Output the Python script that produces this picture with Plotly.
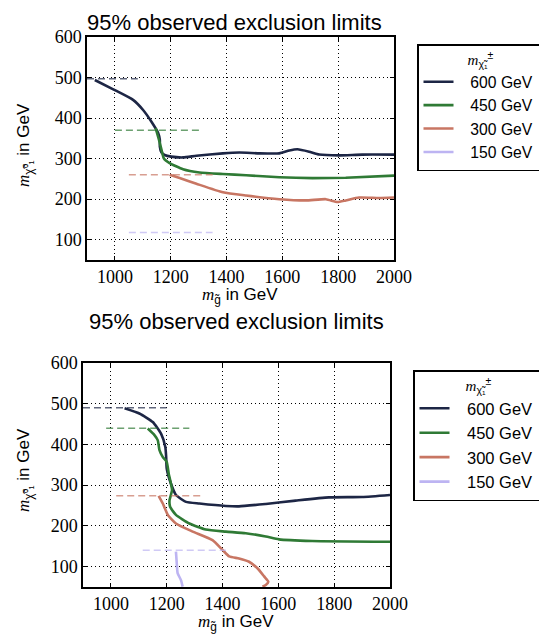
import plotly.graph_objects as go

# ---------------- data ----------------
labels = ["600 GeV", "450 GeV", "300 GeV", "150 GeV"]
colors = ["#1d2645", "#2f7a35", "#c87663", "#bdb4f2"]

# top panel solid contours
top_600_x = [928, 994, 1065, 1101, 1131, 1155, 1161, 1161, 1167, 1178, 1202, 1244, 1292, 1387, 1446, 1518, 1589, 1625, 1654, 1696, 1732, 1803, 1886, 2000]
top_600_y = [494, 471, 445, 420, 391, 363, 346, 330, 315, 309, 305, 303, 307, 313, 315, 313, 313, 320, 323, 317, 310, 308, 310, 310]
top_450_x = [1146, 1158, 1167, 1175, 1196, 1244, 1303, 1387, 1470, 1589, 1708, 1827, 2000]
top_450_y = [375, 346, 322, 301, 289, 274, 266, 262, 259, 254, 252, 253, 258]
top_300_x = [1196, 1232, 1292, 1387, 1470, 1589, 1684, 1756, 1797, 1827, 1875, 1946, 2000]
top_300_y = [260, 252, 238, 217, 209, 200, 197, 200, 193, 197, 204, 203, 204]
top_150_x = []
top_150_y = []

# top panel dashed reference lines
top_dash_x = [[900, 1082], [1000, 1303], [1050, 1350], [1050, 1350]]
top_dash_y = [[497, 497], [370, 370], [260, 260], [118, 118]]

# bottom panel solid contours
bot_600_x = [1049, 1102, 1150, 1180, 1195, 1198, 1200, 1215, 1233, 1269, 1317, 1412, 1459, 1555, 1662, 1781, 1900, 2000]
bot_600_y = [489, 476, 455, 426, 394, 369, 341, 304, 276, 259, 255, 249, 248, 254, 262, 270, 271, 276]
bot_450_x = [1132, 1156, 1168, 1174, 1186, 1200, 1207, 1219, 1210, 1212, 1233, 1281, 1340, 1412, 1483, 1555, 1602, 1721, 2000]
bot_450_y = [439, 423, 410, 386, 369, 357, 329, 288, 263, 247, 227, 206, 191, 186, 182, 174, 167, 163, 161]
bot_300_x = [1171, 1186, 1204, 1233, 1293, 1364, 1400, 1424, 1459, 1495, 1525, 1549, 1564, 1555, 1543]
bot_300_y = [274, 255, 227, 206, 186, 165, 141, 125, 120, 112, 96, 76, 63, 55, 51]
bot_150_x = [1233, 1236, 1239, 1251, 1257]
bot_150_y = [137, 108, 84, 67, 51]

# bottom panel dashed reference lines
bot_dash_x = [[900, 1200], [983, 1281], [1019, 1323], [1114, 1412]]
bot_dash_y = [[490, 490], [440, 440], [274, 274], [140, 140]]

x_ticks = [1000, 1200, 1400, 1600, 1800, 2000]
y_ticks = [100, 200, 300, 400, 500, 600]

title_text = "95% observed exclusion limits"
SERIF = "Liberation Serif"
SANS = "Liberation Sans"
m_i = f"<span style='font-family:{SERIF}'><i>m</i></span>"
xlab = f"{m_i}<sub>g̃</sub> in GeV"
ylab = f"{m_i}<sub>χ̃⁰₁</sub> in GeV"
legtitle = f"{m_i}<sub>χ̃₁</sub><sup>±</sup>"
pad = "&nbsp;&nbsp;\u2009"
tail = "&nbsp;"

W, H = 539, 637

fig = go.Figure()

top_solid = [(top_600_x, top_600_y), (top_450_x, top_450_y), (top_300_x, top_300_y), (top_150_x, top_150_y)]
bot_solid = [(bot_600_x, bot_600_y), (bot_450_x, bot_450_y), (bot_300_x, bot_300_y), (bot_150_x, bot_150_y)]

for i in range(4):
    xs, ys = top_solid[i]
    fig.add_trace(go.Scatter(
        x=xs if xs else [None], y=ys if ys else [None], mode="lines",
        line=dict(color=colors[i], width=2.6, shape="spline", smoothing=0.5),
        name=pad + labels[i] + tail, xaxis="x", yaxis="y", legend="legend"))
for i in range(4):
    fig.add_trace(go.Scatter(
        x=top_dash_x[i], y=top_dash_y[i], mode="lines", opacity=0.7,
        line=dict(color=colors[i], width=1.5, dash="7px,4px"),
        showlegend=False, xaxis="x", yaxis="y"))

for i in range(4):
    xs, ys = bot_solid[i]
    fig.add_trace(go.Scatter(
        x=xs, y=ys, mode="lines",
        line=dict(color=colors[i], width=2.6, shape="spline", smoothing=0.5),
        name=pad + labels[i] + tail, xaxis="x2", yaxis="y2", legend="legend2"))
for i in range(4):
    fig.add_trace(go.Scatter(
        x=bot_dash_x[i], y=bot_dash_y[i], mode="lines", opacity=0.7,
        line=dict(color=colors[i], width=1.5, dash="7px,4px"),
        showlegend=False, xaxis="x2", yaxis="y2"))

axis_style = dict(
    showline=True, linecolor="black", linewidth=1.5, mirror="ticks",
    ticks="inside", ticklen=4, tickcolor="black",
    showgrid=True, gridcolor="black", gridwidth=1, griddash="1px,3px",
    zeroline=False, tickfont=dict(family=SERIF, size=18, color="black"),
)

fig.update_layout(
    width=W, height=H,
    margin=dict(l=0, r=0, t=0, b=0, autoexpand=False),
    paper_bgcolor="white", plot_bgcolor="white",
    xaxis=dict(domain=[87 / W, 394 / W], range=[900, 2000], tickvals=x_ticks, anchor="y", **axis_style),
    yaxis=dict(domain=[1 - 260 / H, 1 - 37 / H], range=[50, 600], tickvals=y_ticks, anchor="x", **axis_style),
    xaxis2=dict(domain=[83 / W, 390 / W], range=[900, 2000], tickvals=x_ticks, anchor="y2", **axis_style),
    yaxis2=dict(domain=[1 - 587 / H, 1 - 363 / H], range=[50, 600], tickvals=y_ticks, anchor="x2", **axis_style),
    legend=dict(
        x=417 / W, y=1 - 44 / H, xanchor="left", yanchor="top",
        bgcolor="white", bordercolor="black", borderwidth=1.5,
        font=dict(family=SANS, size=15.7, color="black"),
        title=dict(text=legtitle, side="top center", font=dict(family=SANS, size=15, color="black")),
        itemwidth=30, tracegroupgap=0),
    legend2=dict(
        x=413 / W, y=1 - 370 / H, xanchor="left", yanchor="top",
        bgcolor="white", bordercolor="black", borderwidth=1.5,
        font=dict(family=SANS, size=16.5, color="black"),
        title=dict(text=legtitle, side="top center", font=dict(family=SANS, size=15, color="black")),
        itemwidth=30, tracegroupgap=0),
)

ann_common = dict(xref="paper", yref="paper", showarrow=False)
fig.add_annotation(text=title_text, x=234.5 / W, y=1 - 22.4 / H, xanchor="center", yanchor="middle",
                   font=dict(family=SANS, size=22, color="black"), **ann_common)
fig.add_annotation(text=title_text, x=236.5 / W, y=1 - 321.4 / H, xanchor="center", yanchor="middle",
                   font=dict(family=SANS, size=22, color="black"), **ann_common)
fig.add_annotation(text=xlab, x=240 / W, y=1 - 296 / H, xanchor="center", yanchor="middle",
                   font=dict(family=SANS, size=17, color="black"), **ann_common)
fig.add_annotation(text=xlab, x=236 / W, y=1 - 623 / H, xanchor="center", yanchor="middle",
                   font=dict(family=SANS, size=17, color="black"), **ann_common)
fig.add_annotation(text=ylab, x=25 / W, y=1 - 145 / H, xanchor="center", yanchor="middle", textangle=-90,
                   font=dict(family=SANS, size=17, color="black"), **ann_common)
fig.add_annotation(text=ylab, x=25 / W, y=1 - 470 / H, xanchor="center", yanchor="middle", textangle=-90,
                   font=dict(family=SANS, size=17, color="black"), **ann_common)

fig.write_html("out.html", config={"displayModeBar": False},
               post_script="document.body.style.margin='0';document.body.style.overflow='hidden';")
